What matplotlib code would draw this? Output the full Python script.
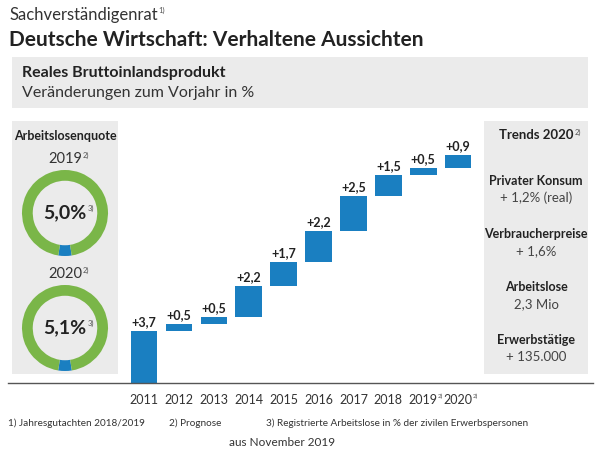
import matplotlib
matplotlib.use('Agg')
import matplotlib.pyplot as plt
from matplotlib.patches import Rectangle
from matplotlib.lines import Line2D
import numpy as np

plt.rcParams['font.family'] = ['Lato', 'DejaVu Sans']

# daten
jahre = ['2011', '2012', '2013', '2014', '2015', '2016', '2017', '2018', '2019', '2020']
veraenderung = [3.7, 0.5, 0.5, 2.2, 1.7, 2.2, 2.5, 1.5, 0.5, 0.9]
prognose = ['2019', '2020']
quote_jahre = ['2019', '2020']
quote_werte = [5.0, 5.1]
trends_titel = ['Privater Konsum', 'Verbraucherpreise', 'Arbeitslose', 'Erwerbstätige']
trends_werte = ['+ 1,2% (real)', '+ 1,6%', '2,3 Mio', '+ 135.000']
fussnoten = ['1) Jahresgutachten 2018/2019', '2) Prognose',
             '3) Registrierte Arbeitslose in % der zivilen Erwerbspersonen']

W, H = 599, 450
blau = '#1a7fc1'
gruen = '#7ab648'
grau = '#ebebeb'
dunkel = '#222222'

fig = plt.figure(figsize=(W / 100, H / 100), dpi=100)
renderer = fig.canvas.get_renderer()


def box(x0, y0, x1, y1, farbe=grau):
    fig.add_artist(Rectangle((x0 / W, 1 - y1 / H), (x1 - x0) / W, (y1 - y0) / H,
                             transform=fig.transFigure, facecolor=farbe,
                             edgecolor='none', zorder=0))


def txt(x, y, s, **kw):
    kw.setdefault('color', dunkel)
    kw.setdefault('va', 'center')
    return fig.text(x / W, 1 - y / H, s, **kw)


def hoch(t, s, size=5.5, dx=1.0, dy=0.0):
    bb = t.get_window_extent(renderer)
    fig.text((bb.x1 + dx) / W, (bb.y1 + dy) / H, s, fontsize=size,
             ha='left', va='top', color='#555555')


# kopf
t = txt(9, 15, 'Sachverständigenrat', fontsize=12, color='#333333')
hoch(t, '1)')
txt(9, 40, 'Deutsche Wirtschaft: Verhaltene Aussichten', fontsize=15, fontweight='bold')

box(12, 57, 588, 108)
txt(22, 73, 'Reales Bruttoinlandsprodukt', fontsize=11.5, fontweight='bold')
txt(22, 93, 'Veränderungen zum Vorjahr in %', fontsize=11.5, color='#333333')

# seitenfelder
box(12, 121, 118, 374)
box(484, 121, 588, 374)

# wasserfall
ax = fig.add_axes([121.3 / W, (H - 383) / H, (475.6 - 121.3) / W, (383 - 120) / H])
ax.set_facecolor('none')
x = np.arange(len(jahre))
unten = np.concatenate([[0], np.cumsum(veraenderung)[:-1]])
ax.bar(x, veraenderung, bottom=unten, width=0.76, color=blau)
for i, v in enumerate(veraenderung):
    ax.annotate('+' + f'{v:.1f}'.replace('.', ','), (i, unten[i] + v),
                xytext=(0, 2), textcoords='offset points', ha='center', va='bottom',
                fontsize=9, fontweight='bold', color=dunkel)
ax.set_xlim(-0.65, 9.5)
ax.set_ylim(0, 18.7)
ax.set_yticks([])
ax.set_xticks(x, jahre)
ax.tick_params(axis='x', length=0, pad=8, labelsize=9, labelcolor='#333333')
for s in ax.spines.values():
    s.set_visible(False)

fig.add_artist(Line2D([8 / W, 593 / W], [1 - 383 / H, 1 - 383 / H],
                      transform=fig.transFigure, color='#555555', lw=1))

fig.canvas.draw()
for lab in ax.get_xticklabels():
    if lab.get_text() in prognose:
        hoch(lab, '2)', size=4.5, dx=0.3)

# arbeitslosenquote
t = txt(65, 136, 'Arbeitslosenquote', fontsize=9, fontweight='bold', ha='center')
for j, q, cy in zip(quote_jahre, quote_werte, [213, 328]):
    cx, r = 65, 43
    dax = fig.add_axes([(cx - r) / W, (H - cy - r) / H, 2 * r / W, 2 * r / H])
    dax.pie([q, 100 - q], colors=[blau, gruen], startangle=270 - q * 3.6 / 2,
            radius=1, wedgeprops=dict(width=0.25, edgecolor='none'))
    dax.set_xlim(-1, 1)
    dax.set_ylim(-1, 1)
    dax.axis('off')
    t = txt(cx, cy - 54, j, fontsize=10.5, color='#333333', ha='center')
    hoch(t, '2)')
    t = txt(cx, cy, f'{q:.1f}'.replace('.', ',') + '%', fontsize=14,
            fontweight='bold', ha='center')
    hoch(t, '3)')

# trends
t = txt(536, 135, 'Trends 2020', fontsize=9.5, fontweight='bold', ha='center')
hoch(t, '2)')
for k, (tt, tw) in enumerate(zip(trends_titel, trends_werte)):
    y0 = 181 + k * 53
    txt(536, y0, tt, fontsize=9, fontweight='bold', ha='center')
    txt(536, y0 + 17, tw, fontsize=9.5, color='#444444', ha='center')

# fussnoten
for xf, f in zip([8, 169, 266], fussnoten):
    txt(xf, 423, f, fontsize=7.2, color='#333333')
txt(282, 442, 'aus November 2019', fontsize=8.5, color='#333333', ha='center')

fig.savefig('out.png', dpi=100)
